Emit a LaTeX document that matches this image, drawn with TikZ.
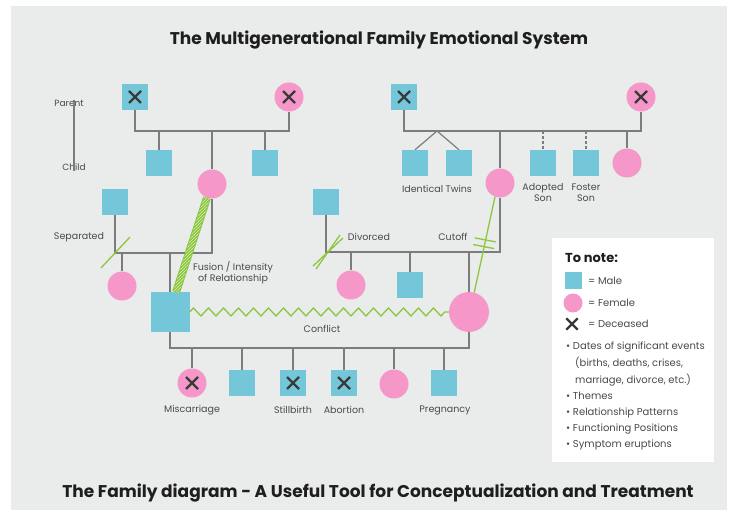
\documentclass[tikz,border=0pt]{standalone}
\usepackage{fontspec}
\setmainfont{Poppins}
\usetikzlibrary{calc,decorations.pathmorphing,patterns,backgrounds}

\definecolor{panel}{HTML}{E9ECEA}
\definecolor{boyblue}{HTML}{74C6D9}
\definecolor{girlpink}{HTML}{F598C9}
\definecolor{bondgreen}{HTML}{8DC63F}
\definecolor{linegrey}{HTML}{7C7C7C}
\definecolor{xdark}{HTML}{3A3A3A}
\definecolor{labelgrey}{HTML}{4A4A4A}
\definecolor{titleblack}{HTML}{1E1E1E}

\begin{document}
\begin{tikzpicture}[x=1pt,y=-1pt,
  rel/.style={draw=linegrey, line width=1.2pt},
  adopt/.style={rel, dashed, dash pattern=on 3pt off 2pt},
  male/.style={rectangle, fill=boyblue, minimum size=26pt, inner sep=0pt},
  bigmale/.style={male, minimum size=39pt},
  female/.style={circle, fill=girlpink, minimum size=29pt, inner sep=0pt},
  bigfemale/.style={female, minimum size=40pt},
  xmark/.style={draw=xdark, line width=2.4pt},
  deceased/.style={path picture={
      \draw[xmark] ($(path picture bounding box.center)+(-6,-6)$) -- ++(12,12)
                   ($(path picture bounding box.center)+(-6,6)$) -- ++(12,-12);}},
  lbl/.style={font=\fontsize{9.5}{11}\selectfont, text=labelgrey, inner sep=0pt, align=center},
  note/.style={font=\fontsize{10}{12}\selectfont, text=labelgrey, inner sep=0pt, anchor=west},
  bond/.style={draw=bondgreen, line width=1.3pt},
  conflict/.style={bond, decorate, decoration={zigzag, segment length=15pt, amplitude=4pt}},
]
\useasboundingbox (0,0) rectangle (730,510);
\begin{scope}[on background layer]
  \fill[white] (0,0) rectangle (730,510);
  \fill[panel] (11,6) rectangle (727,510);
\end{scope}

% titles
\node[font=\bfseries\fontsize{17}{20}\selectfont, text=titleblack] (title) at (379,40)
  {The Multigenerational Family Emotional System};
\node[font=\bfseries\fontsize{17}{20}\selectfont, text=titleblack] (subtitle) at (378,493)
  {The Family diagram - A Useful Tool for Conceptualization and Treatment};

% parent / child key
\node[lbl, font=\fontsize{9}{11}\selectfont] (parentlbl) at (69,103) {Parent};
\node[lbl, font=\fontsize{9}{11}\selectfont] (childlbl) at (74,167) {Child};
\draw[rel] ([yshift=6]parentlbl.south -| childlbl) -- ([yshift=-8]childlbl.north);

% ---------- first generation ----------
\node[male, deceased] (gfL) at (135,97) {};
\node[female, deceased] (gmL) at (289,97) {};
\node[male, deceased] (gfR) at (404,97) {};
\node[female, deceased] (gmR) at (641,97) {};
\coordinate (barL) at (212,131);
\coordinate (barR) at (500,131);

% ---------- second generation ----------
\node[male] (uncL1) at (159,163) {};
\node[male] (uncL2) at (265,163) {};
\node[female] (momL) at (212,184) {};
\node[male] (dadL) at (115,202) {};

\node[male] (twinA) at (415,163) {};
\node[male] (twinB) at (459,163) {};
\coordinate (twinfork) at (437,131);
\node[male] (adopted) at (543,163) {};
\node[male] (foster) at (586,163) {};
\node[female] (auntR) at (627,163) {};
\node[female] (momR) at (500,183) {};
\node[male] (dadR) at (326,202) {};

\coordinate (barMid) at (165,253);
\coordinate (barDiv) at (420,252);

% ---------- third generation ----------
\node[female] (sisL) at (122,286) {};
\node[bigmale] (husband) at (170,312) {};
\node[female] (sisR) at (351,285) {};
\node[male] (broR) at (410,285) {};
\node[bigfemale] (wife) at (469,312) {};
\coordinate (barLow) at (320,348);

% ---------- fourth generation ----------
\node[female, deceased] (kid1) at (192,383) {};
\node[male] (kid2) at (242,383) {};
\node[male, deceased] (kid3) at (293,383) {};
\node[male, deceased] (kid4) at (344,383) {};
\node[female] (kid5) at (394,384) {};
\node[male] (kid6) at (444,383) {};

% ---------- family lines (behind the people) ----------
\begin{scope}[on background layer]
\draw[rel] (gfL) |- (barL) -| (gmL);
\draw[rel] (uncL1 |- barL) -- (uncL1);
\draw[rel] (uncL2 |- barL) -- (uncL2);
\draw[rel] (momL |- barL) -- (momL);

\draw[rel] (gfR) |- (barR) -| (gmR);
\draw[rel] (twinfork) -- (twinA.north);
\draw[rel] (twinfork) -- (twinB.north);
\draw[adopt] (adopted |- barR) -- (adopted.north);
\draw[adopt] (foster |- barR) -- (foster.north);
\draw[rel] (auntR |- barR) -- (auntR);
\draw[rel] (momR |- barR) -- (momR);

\draw[rel] (momL) |- (barMid) -| (dadL);
\draw[rel] (sisL |- barMid) -- (sisL);
\draw[rel] (husband |- barMid) -- (husband);

\draw[rel] (momR) |- (barDiv) -| (dadR);
\draw[rel] (sisR |- barDiv) -- (sisR);
\draw[rel] (broR |- barDiv) -- (broR);
\draw[rel] (wife |- barDiv) -- (wife);

\draw[rel] (husband) |- (barLow) -| (wife);
\foreach \k in {kid1,kid2,kid3,kid4,kid5,kid6}
  \draw[rel] (\k |- barLow) -- (\k);
\end{scope}

% separated
\coordinate (sepPt) at (dadL |- barMid);
\draw[bond] ($(sepPt)+(-14,15)$) -- ($(sepPt)+(15,-16)$);
% divorced
\coordinate (divPt) at (dadR |- barDiv);
\draw[bond] ($(divPt)+(-13,14)$) -- ($(divPt)+(17,-14)$);
\draw[bond] ($(divPt)+(-10,17)$) -- ($(divPt)+(14,-17)$);

% fusion band
\coordinate (fuseA) at (momL.250);
\coordinate (fuseB) at ([xshift=6]husband.north);
\fill[bondgreen] ($(fuseA)!4pt!90:(fuseB)$) -- ($(fuseA)!4pt!-90:(fuseB)$)
  -- ($(fuseB)!4pt!90:(fuseA)$) -- ($(fuseB)!4pt!-90:(fuseA)$) -- cycle;
\fill[pattern=north east lines, pattern color=white!65!bondgreen]
  ($(fuseA)!3pt!90:(fuseB)$) -- ($(fuseA)!3pt!-90:(fuseB)$)
  -- ($(fuseB)!3pt!90:(fuseA)$) -- ($(fuseB)!3pt!-90:(fuseA)$) -- cycle;

% cutoff
\draw[bond] (momR.250) -- (wife.75)
  coordinate[pos=0.45] (cutA) coordinate[pos=0.52] (cutB);
\draw[bond] ($(cutA)+(-11,-2)$) -- ($(cutA)+(10,2)$);
\draw[bond] ($(cutB)+(-11,-2)$) -- ($(cutB)+(10,2)$);

% conflict
\draw[conflict] (husband.east) -- (wife.west);

% ---------- labels ----------
\node[lbl] (lblSep) at (79,237) {Separated};
\node[lbl] (lblDiv) at (369,237) {Divorced};
\node[lbl] (lblCut) at (453,237) {Cutoff};
\node[lbl] (lblFuse) at (233,273) {Fusion / Intensity\\of Relationship};
\node[lbl] (lblConf) at (322,329) {Conflict};
\node[lbl] (lblTwins) at (437,189) {Identical Twins};
\node[lbl] (lblAdopt) at (543,193) {Adopted\\Son};
\node[lbl] (lblFoster) at (586,193) {Foster\\Son};
\node[lbl] (lblMis) at (192,410) {Miscarriage};
\node[lbl] (lblStill) at (293,410) {Stillbirth};
\node[lbl] (lblAbort) at (344,410) {Abortion};
\node[lbl] (lblPreg) at (445,410) {Pregnancy};

% ---------- key box ----------
\node[fill=white, minimum width=162pt, minimum height=224pt, inner sep=0pt] (keybox) at (633,350) {};
\node[anchor=west, inner sep=0pt, font=\bfseries\fontsize{13}{15}\selectfont, text=titleblack] (keyhead) at (565,258) {To note:};
\node[male, minimum size=17pt] (keyM) at (573,281) {};
\node[female, minimum size=19pt] (keyF) at (573,303) {};
\node[minimum size=14pt, inner sep=0pt] (keyX) at (572,324) {};
\draw[xmark] ($(keyX.north west)+(1.5,1.5)$) -- ($(keyX.south east)+(-1.5,-1.5)$);
\draw[xmark] ($(keyX.south west)+(1.5,-1.5)$) -- ($(keyX.north east)+(-1.5,1.5)$);
\node[note] (keyMt) at (588,281) {= Male};
\node[note] (keyFt) at (588,303) {= Female};
\node[note] (keyXt) at (588,324) {= Deceased};
\node[note] (n1) at (566,347) {\textbullet\ Dates of significant events};
\node[note] (n1b) at (575,363) {(births, deaths, crises,};
\node[note] (n1c) at (575,380) {marriage, divorce, etc.)};
\node[note] (n2) at (566,396) {\textbullet\ Themes};
\node[note] (n3) at (566,413) {\textbullet\ Relationship Patterns};
\node[note] (n4) at (566,429) {\textbullet\ Functioning Positions};
\node[note] (n5) at (566,445) {\textbullet\ Symptom eruptions};
\end{tikzpicture}
\end{document}
